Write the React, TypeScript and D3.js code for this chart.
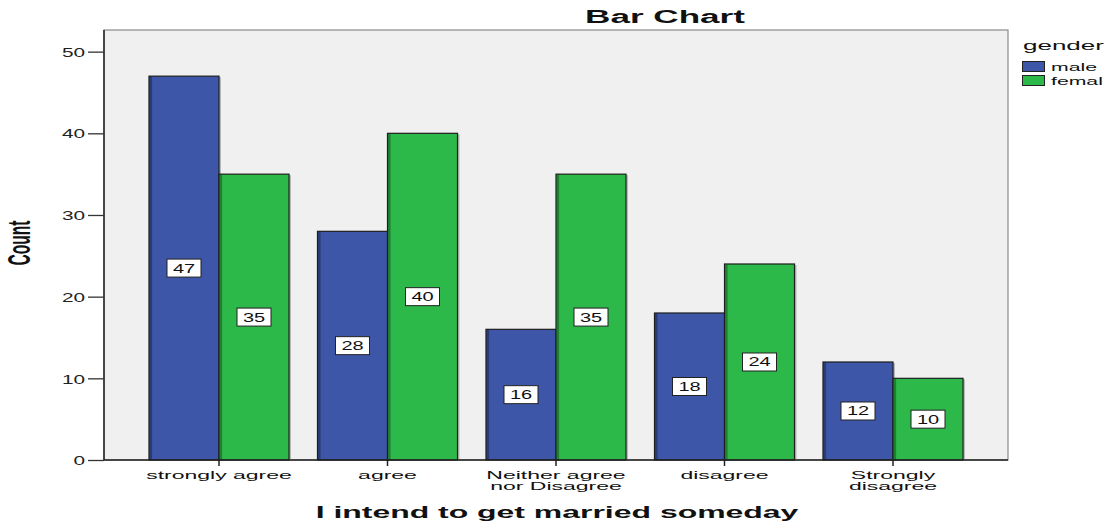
import React, { useEffect, useRef } from "react";
import * as d3 from "d3";

const categories = ["strongly agree", "agree", "Neither agree\nnor Disagree", "disagree", "Strongly\ndisagree"];
const genders = ["male", "femal"];
const maleCounts = [47, 28, 16, 18, 12];
const femaleCounts = [35, 40, 35, 24, 10];
const yTicks = [0, 10, 20, 30, 40, 50];

const colors: Record<string, string> = { male: "#3d56a8", femal: "#2db84a" };
const FONT = "Liberation Sans, Arial, sans-serif";

// the original output is stretched sideways, so text is squashed back with scale(sx,1)
function stretched(parent: any, x: number, y: number, sx: number, size: number, txt: string, bold = false) {
  return parent.append("text")
    .attr("transform", `translate(${x},${y}) scale(${sx},1)`)
    .attr("font-family", FONT).attr("font-size", size)
    .attr("font-weight", bold ? "bold" : "normal").attr("fill", "#111")
    .text(txt);
}

export default function App() {
  const svgRef = useRef<SVGSVGElement>(null);

  useEffect(() => {
    if (!svgRef.current) return;
    const svg = d3.select(svgRef.current);
    svg.selectAll("*").remove();

    const left = 104, right = 1008, top = 30, bottom = 460;

    const x = d3.scaleBand<string>().domain(categories).range([left, right]).paddingInner(0.169).paddingOuter(0.267);
    const xs = d3.scaleBand<string>().domain(genders).range([0, x.bandwidth()]);
    const y = d3.scaleLinear().domain([0, 52.65]).range([bottom, top]);

    const rows = categories.map((c, i) => ({ cat: c, values: [maleCounts[i], femaleCounts[i]] }));

    // plot background
    svg.append("rect").attr("x", left).attr("y", top).attr("width", right - left).attr("height", bottom - top)
      .attr("fill", "#f0f0f0").attr("stroke", "#8a8a8a").attr("stroke-width", 1.2);

    // title
    stretched(svg, 665, 23, 1.95, 18, "Bar Chart", true).attr("text-anchor", "middle");

    // bars
    const groups = svg.selectAll(".grp").data(rows).join("g").attr("class", "grp")
      .attr("transform", (d) => `translate(${x(d.cat)},0)`);

    const bars = groups.selectAll(".bar")
      .data((d) => d.values.map((v, j) => ({ g: genders[j], v })))
      .join("g").attr("class", "bar");

    bars.append("rect")
      .attr("x", (d) => (xs(d.g) || 0) + 2).attr("y", (d) => y(d.v) + 1)
      .attr("width", xs.bandwidth()).attr("height", (d) => bottom - y(d.v) - 1)
      .attr("fill", "#b8b8b8");
    bars.append("rect")
      .attr("x", (d) => xs(d.g) || 0).attr("y", (d) => y(d.v))
      .attr("width", xs.bandwidth()).attr("height", (d) => bottom - y(d.v))
      .attr("fill", (d) => colors[d.g]).attr("stroke", "#1e1e1e").attr("stroke-width", 1.2);
    bars.append("rect")
      .attr("x", (d) => (xs(d.g) || 0) + 0.6).attr("y", (d) => y(d.v) + 0.6)
      .attr("width", 2.5).attr("height", (d) => bottom - y(d.v) - 0.6)
      .attr("fill", "#000").attr("opacity", 0.3);

    // value labels
    const lab = bars.append("g")
      .attr("transform", (d) => `translate(${(xs(d.g) || 0) + xs.bandwidth() / 2},${(y(d.v) + bottom) / 2})`);
    lab.append("rect").attr("x", -17).attr("y", -9).attr("width", 34).attr("height", 18)
      .attr("fill", "#fff").attr("stroke", "#222").attr("stroke-width", 1);
    lab.append("text").attr("text-anchor", "middle").attr("transform", "translate(0,4.5) scale(1.6,1)")
      .attr("font-family", FONT).attr("font-size", 12.5).attr("fill", "#111")
      .text((d) => String(d.v));

    // y axis
    const ySx = 1.6;
    const yAxis = svg.append("g").attr("transform", `translate(${left},0)`)
      .call(d3.axisLeft(y).tickValues(yTicks).tickSize(16).tickPadding(3));
    yAxis.select(".domain").attr("stroke", "#222").attr("stroke-width", 1.5).attr("d", `M0,${top}V${bottom}`);
    yAxis.selectAll(".tick line").attr("stroke", "#333").attr("stroke-width", 1.3);
    yAxis.selectAll(".tick text").attr("font-family", FONT).attr("font-size", 13).attr("fill", "#222")
      .attr("x", -19 / ySx).attr("dy", "0.36em").attr("transform", `scale(${ySx},1)`);

    // x axis
    const xAxis = svg.append("g").attr("transform", `translate(0,${bottom})`)
      .call(d3.axisBottom(x).tickSize(6).tickFormat(() => ""));
    xAxis.select(".domain").attr("stroke", "#222").attr("stroke-width", 1.5).attr("d", `M${left},0H${right}`);
    xAxis.selectAll(".tick line").attr("stroke", "#222").attr("stroke-width", 1.5);

    categories.forEach((c) => {
      const cx = (x(c) || 0) + x.bandwidth() / 2;
      c.split("\n").forEach((l, i) => {
        stretched(svg, cx, 479 + i * 11, 2.0, 11.5, l).attr("text-anchor", "middle");
      });
    });

    // axis titles
    stretched(svg, 557, 518, 1.88, 17, "I intend to get married someday", true).attr("text-anchor", "middle");

    svg.append("text").attr("transform", "translate(30,243) scale(2,1) rotate(-90)").attr("text-anchor", "middle")
      .attr("font-family", FONT).attr("font-weight", "bold").attr("font-size", 15.6).attr("fill", "#111")
      .text("Count");

    // legend
    const lg = svg.append("g").attr("transform", "translate(1022,0)");
    stretched(lg, 1, 50, 2.0, 13, "gender");
    genders.forEach((g, i) => {
      lg.append("rect").attr("x", 0.5).attr("y", 61.5 + i * 14).attr("width", 22).attr("height", 10)
        .attr("fill", colors[g]).attr("stroke", "#222").attr("stroke-width", 1);
      stretched(lg, 29, 71 + i * 14, 1.93, 11, g);
    });
  }, []);

  return (
    <svg ref={svgRef} width={1112} height={525}
      style={{ position: "absolute", left: 0, top: 0, background: "#fff" }} />
  );
}
